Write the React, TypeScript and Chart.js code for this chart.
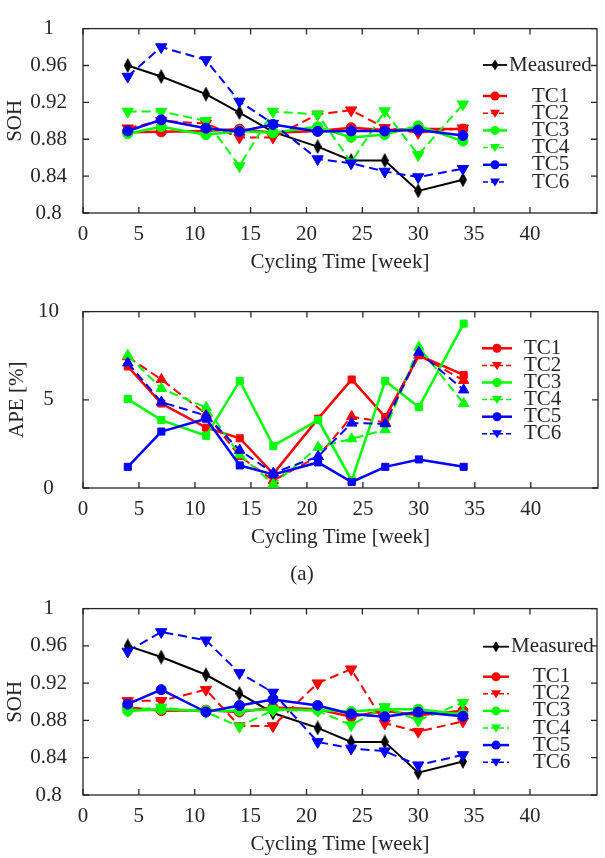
import React, { useEffect, useRef } from 'react';
import { Chart, registerables } from 'chart.js';
Chart.register(...registerables);

// ---------- data ----------
const weeks = [4, 7, 11, 14, 17, 21, 24, 27, 30, 34];
const xTicks = [0, 5, 10, 15, 20, 25, 30, 35, 40];
const sohTicks = [0.8, 0.84, 0.88, 0.92, 0.96, 1];
const apeTicks = [0, 5, 10];

const measured = [0.96, 0.948, 0.929, 0.909, 0.888, 0.872, 0.857, 0.857, 0.824, 0.836];

// (a) SOH
const tc1A = [0.8875, 0.888, 0.889, 0.891, 0.887, 0.889, 0.8925, 0.89, 0.891, 0.891];
const tc2A = [0.892, 0.9, 0.897, 0.882, 0.882, 0.907, 0.9115, 0.8925, 0.887, 0.892];
const tc3A = [0.886, 0.8935, 0.885, 0.889, 0.887, 0.8935, 0.882, 0.885, 0.8945, 0.878];
const tc4A = [0.91, 0.91, 0.9, 0.851, 0.91, 0.907, 0.855, 0.9105, 0.863, 0.918];
const tc5A = [0.889, 0.901, 0.892, 0.8885, 0.896, 0.8885, 0.889, 0.889, 0.89, 0.884];
const tc6A = [0.948, 0.98, 0.966, 0.921, 0.897, 0.8585, 0.854, 0.845, 0.839, 0.848];

// APE [%]
const ape1 = [6.89, 4.79, 3.42, 2.82, 0.8, 3.93, 6.15, 4.02, 7.52, 6.41];
const ape2 = [7.44, 6.15, 4.19, 1.79, 0.43, 1.79, 4.05, 3.71, 7.52, 6.1];
const ape3 = [5.04, 3.85, 2.96, 6.07, 2.39, 3.85, 0.43, 6.07, 4.58, 9.32];
const ape4 = [7.52, 5.64, 4.56, 1.88, 0.22, 2.31, 2.79, 3.3, 7.98, 4.79];
const ape5 = [1.2, 3.2, 3.93, 1.28, 0.77, 1.45, 0.34, 1.2, 1.62, 1.2];
const ape6 = [7.09, 4.87, 4.1, 2.14, 0.85, 1.79, 3.68, 3.64, 7.69, 5.56];

// (b) SOH
const tc1B = [0.894, 0.8905, 0.891, 0.889, 0.894, 0.892, 0.884, 0.8905, 0.8855, 0.8905];
const tc2B = [0.901, 0.901, 0.913, 0.874, 0.874, 0.92, 0.935, 0.877, 0.868, 0.879];
const tc3B = [0.89, 0.892, 0.8905, 0.8905, 0.892, 0.891, 0.8895, 0.892, 0.892, 0.8865];
const tc4B = [0.891, 0.894, 0.889, 0.8735, 0.891, 0.8905, 0.875, 0.8945, 0.88, 0.899];
const tc5B = [0.8975, 0.913, 0.889, 0.896, 0.9025, 0.896, 0.887, 0.884, 0.889, 0.8845];
const tc6B = [0.954, 0.975, 0.966, 0.931, 0.91, 0.857, 0.85, 0.847, 0.832, 0.843];

// ---------- style ----------
const RED = '#ff0000';
const GREEN = '#00ff00';
const BLUE = '#0000ff';
const BLACK = '#000000';
const TEXT = '#262626';
const FAMILY = '"Liberation Serif", "Times New Roman", serif';
const FONT = { family: FAMILY, size: 21 };

type Marker = 'circle' | 'triDown' | 'triUp' | 'square' | 'diamond';
interface SeriesDef { label: string; values: number[]; color: string; dashed: boolean; marker: Marker; }
interface LegendEntry { label: string; color: string; dashed: boolean; marker: Marker; y: number; textX: number; }

function diamondImage(color: string, w: number, h: number) {
  const c = document.createElement('canvas');
  c.width = w; c.height = h;
  const g = c.getContext('2d')!;
  g.fillStyle = color;
  g.beginPath();
  g.moveTo(w / 2, 0); g.lineTo(w, h / 2); g.lineTo(w / 2, h); g.lineTo(0, h / 2);
  g.closePath(); g.fill();
  return c;
}

function buildDataset(s: SeriesDef, order: number) {
  const d: any = {
    label: s.label,
    data: weeks.map((w, i) => ({ x: w, y: s.values[i] })),
    borderColor: s.color,
    backgroundColor: s.color,
    pointBackgroundColor: s.color,
    pointBorderColor: s.color,
    pointBorderWidth: 1,
    borderWidth: s.color === BLACK ? 2 : s.dashed ? 2 : 2.5,
    borderDash: s.dashed ? [9, 5] : [],
    tension: 0,
    order,
    clip: false,
  };
  if (s.marker === 'circle') { d.pointStyle = 'circle'; d.pointRadius = 5; }
  else if (s.marker === 'triDown') { d.pointStyle = 'triangle'; d.pointRotation = 180; d.pointRadius = 6.5; }
  else if (s.marker === 'triUp') { d.pointStyle = 'triangle'; d.pointRadius = 6; }
  else if (s.marker === 'square') { d.pointStyle = 'rect'; d.pointRadius = 5; }
  else { d.pointStyle = diamondImage(s.color, 8, 15); d.pointRadius = 7; }
  return d;
}

function drawMarker(ctx: CanvasRenderingContext2D, m: Marker, x: number, y: number, color: string) {
  ctx.fillStyle = color;
  ctx.beginPath();
  if (m === 'circle') { ctx.arc(x, y, 4.5, 0, Math.PI * 2); }
  else if (m === 'triDown') { ctx.moveTo(x - 5, y - 3.5); ctx.lineTo(x + 5, y - 3.5); ctx.lineTo(x, y + 4.5); ctx.closePath(); }
  else if (m === 'triUp') { ctx.moveTo(x - 5, y + 3.5); ctx.lineTo(x + 5, y + 3.5); ctx.lineTo(x, y - 4.5); ctx.closePath(); }
  else if (m === 'square') { ctx.rect(x - 4, y - 4, 8, 8); }
  else { ctx.moveTo(x, y - 5.5); ctx.lineTo(x + 3.5, y); ctx.lineTo(x, y + 5.5); ctx.lineTo(x - 3.5, y); ctx.closePath(); }
  ctx.fill();
}

const framePlugin = {
  id: 'matlabFrame',
  beforeDatasetsDraw(chart: any) {
    const { ctx, chartArea: a, scales } = chart;
    ctx.save();
    ctx.strokeStyle = TEXT;
    ctx.lineWidth = 1.3;
    ctx.setLineDash([]);
    ctx.strokeRect(a.left, a.top, a.right - a.left, a.bottom - a.top);
    const L = 6;
    ctx.beginPath();
    scales.x.ticks.forEach((t: any) => {
      const px = scales.x.getPixelForValue(t.value);
      ctx.moveTo(px, a.bottom); ctx.lineTo(px, a.bottom - L);
      ctx.moveTo(px, a.top); ctx.lineTo(px, a.top + L);
    });
    scales.y.ticks.forEach((t: any) => {
      const py = scales.y.getPixelForValue(t.value);
      ctx.moveTo(a.left, py); ctx.lineTo(a.left + L, py);
      ctx.moveTo(a.right, py); ctx.lineTo(a.right - L, py);
    });
    ctx.stroke();
    ctx.restore();
  },
};

function makeLegendPlugin(id: string, x1: number, x2: number, entries: LegendEntry[]) {
  return {
    id,
    afterDraw(chart: any) {
      const ctx: CanvasRenderingContext2D = chart.ctx;
      ctx.save();
      for (const e of entries) {
        ctx.strokeStyle = e.color;
        ctx.lineWidth = e.color === BLACK ? 1.8 : e.dashed ? 1.5 : 2.5;
        ctx.setLineDash(e.dashed ? [5, 3] : []);
        ctx.beginPath();
        ctx.moveTo(x1, e.y); ctx.lineTo(x2, e.y);
        ctx.stroke();
        ctx.setLineDash([]);
        drawMarker(ctx, e.marker, (x1 + x2) / 2, e.y, e.color);
        ctx.fillStyle = TEXT;
        ctx.font = `21px ${FAMILY}`;
        ctx.textBaseline = 'middle';
        ctx.textAlign = 'left';
        ctx.fillText(e.label, e.textX, e.y);
      }
      ctx.restore();
    },
  };
}

const fmt = (v: any) => {
  const n = Number(v);
  return Number.isInteger(n) ? String(n) : String(+n.toFixed(2));
};

interface ChartDef {
  series: SeriesDef[];
  yMin: number; yMax: number; yTicks: number[]; yTitle: string;
  yTitlePad: number; yTickPad: number;
  padTop: number; padBottom: number;
  legend: any;
}

function makeConfig(p: ChartDef): any {
  const n = p.series.length;
  return {
    type: 'line',
    data: { datasets: p.series.map((s, i) => buildDataset(s, n - 1 - i)) },
    plugins: [framePlugin, p.legend],
    options: {
      animation: false,
      responsive: false,
      maintainAspectRatio: false,
      devicePixelRatio: 1,
      layout: { padding: { left: 0, right: 3, top: p.padTop, bottom: p.padBottom } },
      plugins: { legend: { display: false }, tooltip: { enabled: false } },
      scales: {
        x: {
          type: 'linear', min: 0, max: 46,
          afterBuildTicks: (s: any) => { s.ticks = xTicks.map((v) => ({ value: v })); },
          afterFit: (s: any) => { s.height = 62; },
          grid: { display: false, drawTicks: false },
          border: { display: false },
          ticks: { padding: 9, font: FONT, color: TEXT, maxRotation: 0, autoSkip: false, callback: fmt },
          title: { display: true, text: 'Cycling Time [week]', font: FONT, color: TEXT, padding: 0 },
        },
        y: {
          type: 'linear', min: p.yMin, max: p.yMax,
          afterBuildTicks: (s: any) => { s.ticks = p.yTicks.map((v) => ({ value: v })); },
          afterFit: (s: any) => { s.width = 83; },
          grid: { display: false, drawTicks: false },
          border: { display: false },
          ticks: { padding: p.yTickPad, crossAlign: 'center', font: FONT, color: TEXT, autoSkip: false, callback: fmt },
          title: { display: true, text: p.yTitle, font: FONT, color: TEXT, padding: { top: p.yTitlePad, bottom: 0 } },
        },
      },
    },
  };
}

function ChartCanvas({ top, height, def }: { top: number; height: number; def: () => ChartDef }) {
  const ref = useRef<HTMLCanvasElement>(null);
  useEffect(() => {
    const chart = new Chart(ref.current!, makeConfig(def()));
    return () => chart.destroy();
  }, []);
  return (
    <canvas ref={ref} width={605} height={height}
      style={{ position: 'absolute', left: 0, top, width: 605, height, display: 'block' }} />
  );
}

const sohSeries = (t1: number[], t2: number[], t3: number[], t4: number[], t5: number[], t6: number[]): SeriesDef[] => [
  { label: 'Measured', values: measured, color: BLACK, dashed: false, marker: 'diamond' },
  { label: 'TC1', values: t1, color: RED, dashed: false, marker: 'circle' },
  { label: 'TC2', values: t2, color: RED, dashed: true, marker: 'triDown' },
  { label: 'TC3', values: t3, color: GREEN, dashed: false, marker: 'circle' },
  { label: 'TC4', values: t4, color: GREEN, dashed: true, marker: 'triDown' },
  { label: 'TC5', values: t5, color: BLUE, dashed: false, marker: 'circle' },
  { label: 'TC6', values: t6, color: BLUE, dashed: true, marker: 'triDown' },
];

const apeSeries: SeriesDef[] = [
  { label: 'TC1', values: ape1, color: RED, dashed: false, marker: 'square' },
  { label: 'TC2', values: ape2, color: RED, dashed: true, marker: 'triUp' },
  { label: 'TC3', values: ape3, color: GREEN, dashed: false, marker: 'square' },
  { label: 'TC4', values: ape4, color: GREEN, dashed: true, marker: 'triUp' },
  { label: 'TC5', values: ape5, color: BLUE, dashed: false, marker: 'square' },
  { label: 'TC6', values: ape6, color: BLUE, dashed: true, marker: 'triUp' },
];

const tcLegendStyles = [
  { label: 'TC1', color: RED, dashed: false, marker: 'circle' as Marker },
  { label: 'TC2', color: RED, dashed: true, marker: 'triDown' as Marker },
  { label: 'TC3', color: GREEN, dashed: false, marker: 'circle' as Marker },
  { label: 'TC4', color: GREEN, dashed: true, marker: 'triDown' as Marker },
  { label: 'TC5', color: BLUE, dashed: false, marker: 'circle' as Marker },
  { label: 'TC6', color: BLUE, dashed: true, marker: 'triDown' as Marker },
];

function sohLegend(id: string, measY: number, measTextX: number, tcY0: number, step: number, tcTextX: number, x1: number, x2: number) {
  const entries: LegendEntry[] = [
    { label: 'Measured', color: BLACK, dashed: false, marker: 'diamond', y: measY, textX: measTextX },
    ...tcLegendStyles.map((s, i) => ({ ...s, y: tcY0 + i * step, textX: tcTextX })),
  ];
  return makeLegendPlugin(id, x1, x2, entries);
}

const defA = (): ChartDef => ({
  series: sohSeries(tc1A, tc2A, tc3A, tc4A, tc5A, tc6A),
  yMin: 0.8, yMax: 1, yTicks: sohTicks, yTitle: 'SOH', yTitlePad: 3, yTickPad: 16,
  padTop: 19, padBottom: 0,
  legend: sohLegend('legendA', 65, 509, 96, 17.2, 532, 483, 507),
});

const defB = (): ChartDef => ({
  series: apeSeries,
  yMin: 0, yMax: 10, yTicks: apeTicks, yTitle: 'APE [%]', yTitlePad: 5, yTickPad: 24,
  padTop: 18, padBottom: 15,
  legend: makeLegendPlugin('legendB', 482, 512,
    tcLegendStyles.map((s, i) => ({ ...s, y: 73.3 + i * 17.1, textX: 524 }))),
});

const defC = (): ChartDef => ({
  series: sohSeries(tc1B, tc2B, tc3B, tc4B, tc5B, tc6B),
  yMin: 0.8, yMax: 1, yTicks: sohTicks, yTitle: 'SOH', yTitlePad: 3, yTickPad: 16,
  padTop: 20, padBottom: 1,
  legend: sohLegend('legendC', 66.7, 511, 96.7, 17.1, 533, 483, 509),
});

export default function App() {
  return (
    <div style={{ position: 'absolute', left: 0, top: 0, width: 605, height: 858, background: '#ffffff', overflow: 'hidden' }}>
      <ChartCanvas top={0} height={275} def={defA} />
      <ChartCanvas top={275} height={290} def={defB} />
      <div style={{ position: 'absolute', left: 272, top: 560, width: 60, textAlign: 'center', fontFamily: FAMILY, fontSize: 21, lineHeight: '26px', color: TEXT }}>(a)</div>
      <ChartCanvas top={580} height={278} def={defC} />
    </div>
  );
}
